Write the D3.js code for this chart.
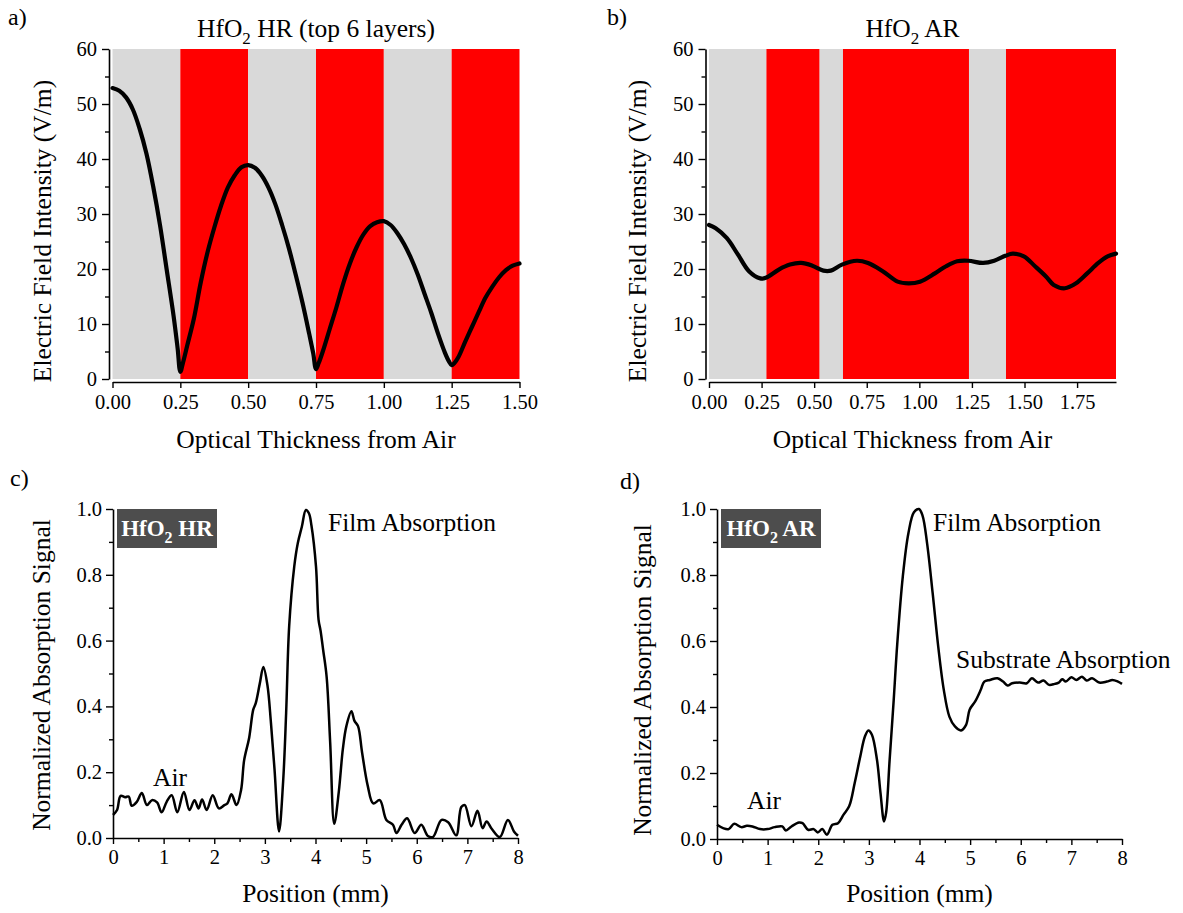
<!DOCTYPE html>
<html>
<head>
<meta charset="utf-8">
<script src="https://cdn.jsdelivr.net/npm/d3@7"></script>
<style>
  html, body { margin: 0; padding: 0; background: #fff; }
  svg text { font-family: "Liberation Serif", "Times New Roman", serif; fill: #000; }
</style>
</head>
<body>
<svg id="chart" width="1183" height="913"></svg>
<script>
// ---------------- DATA ----------------
// Panel a: HfO2 HR (top 6 layers)
const hrLayerStart = [0, 0.25, 0.5, 0.75, 1.0, 1.25];
const hrLayerEnd   = [0.25, 0.5, 0.75, 1.0, 1.25, 1.5];
const hrLayerType  = ["low", "high", "low", "high", "low", "high"];
const hrX = [0, 0.025, 0.05, 0.075, 0.1, 0.125, 0.15, 0.175, 0.2, 0.225, 0.24, 0.25, 0.26, 0.275, 0.3, 0.325, 0.35, 0.375, 0.4, 0.425, 0.45, 0.475, 0.5,
             0.525, 0.55, 0.575, 0.6, 0.625, 0.65, 0.675, 0.7, 0.725, 0.74, 0.75, 0.76, 0.775, 0.8, 0.825, 0.85, 0.875, 0.9, 0.925, 0.95, 0.975, 1.0,
             1.025, 1.05, 1.075, 1.1, 1.125, 1.15, 1.175, 1.2, 1.225, 1.24, 1.25, 1.26, 1.275, 1.3, 1.325, 1.35, 1.375, 1.4, 1.425, 1.45, 1.475, 1.5];
const hrE = [52.9, 52.4, 51.2, 49.0, 45.5, 41.0, 35.0, 28.0, 19.8, 11.5, 5.6, 1.3, 3.0, 6.0, 11.0, 17.5, 23.0, 27.5, 31.5, 34.8, 37.0, 38.5, 38.9,
             38.4, 37.0, 34.8, 31.8, 28.0, 23.8, 19.0, 13.9, 8.2, 4.6, 1.8, 2.9, 5.0, 9.0, 13.0, 17.3, 21.0, 24.0, 26.3, 27.8, 28.5, 28.7,
             28.0, 26.5, 24.5, 22.0, 19.0, 15.5, 12.0, 8.2, 4.8, 3.2, 2.5, 2.9, 4.0, 6.8, 9.5, 12.2, 14.8, 16.8, 18.5, 19.8, 20.6, 21.0];

// Panel b: HfO2 AR
const arLayerStart = [0, 0.273, 0.526, 0.637, 1.236, 1.412];
const arLayerEnd   = [0.273, 0.526, 0.637, 1.236, 1.412, 1.935];
const arLayerType  = ["low", "high", "low", "high", "low", "high"];
const arX = [0, 0.032, 0.085, 0.138, 0.19, 0.244, 0.27, 0.332, 0.385, 0.438, 0.491, 0.544, 0.579, 0.632, 0.703, 0.756, 0.826, 0.897, 0.95, 1.003,
             1.074, 1.127, 1.18, 1.233, 1.303, 1.356, 1.409, 1.444, 1.497, 1.55, 1.603, 1.639, 1.692, 1.745, 1.798, 1.851, 1.895, 1.935];
const arE = [28.0, 27.4, 25.6, 22.6, 19.6, 18.3, 18.4, 19.9, 20.8, 21.1, 20.6, 19.7, 19.7, 20.8, 21.5, 21.1, 19.6, 17.7, 17.4, 17.7,
             19.2, 20.5, 21.4, 21.5, 21.1, 21.5, 22.4, 22.8, 22.3, 20.5, 18.6, 17.1, 16.5, 17.4, 19.2, 21.1, 22.3, 22.8];

// Panel c: HfO2 HR absorption scan
const hrPos = [0, 0.08, 0.15, 0.24, 0.31, 0.37, 0.47, 0.57, 0.67, 0.77, 0.87, 0.96, 1.06, 1.16, 1.27, 1.40, 1.51, 1.61, 1.69, 1.76, 1.85, 1.97,
               2.09, 2.2, 2.26, 2.34, 2.44, 2.53, 2.59, 2.69, 2.77, 2.82, 2.9, 2.97, 3.05, 3.12, 3.19, 3.28, 3.36, 3.42, 3.48, 3.58, 3.65, 3.73,
               3.81, 3.87, 3.92, 4.01, 4.06, 4.1, 4.15, 4.22, 4.29, 4.37, 4.46, 4.54, 4.61, 4.71, 4.77, 4.84, 4.92, 5.03, 5.14, 5.27, 5.4, 5.53,
               5.6, 5.7, 5.81, 5.96, 6.09, 6.22, 6.32, 6.49, 6.62, 6.78, 6.88, 6.95, 7.08, 7.2, 7.3, 7.38, 7.48, 7.64, 7.8, 7.92, 8.0];
const hrAbs = [0.07, 0.085, 0.128, 0.124, 0.126, 0.098, 0.11, 0.137, 0.1, 0.115, 0.108, 0.078, 0.11, 0.13, 0.078, 0.14, 0.085, 0.115, 0.09, 0.117, 0.085, 0.13,
               0.09, 0.1, 0.105, 0.133, 0.1, 0.146, 0.236, 0.305, 0.39, 0.41, 0.47, 0.52, 0.465, 0.35, 0.21, 0.02, 0.17, 0.38, 0.644, 0.825, 0.896, 0.946,
               0.997, 0.987, 0.95, 0.825, 0.664, 0.63, 0.573, 0.49, 0.29, 0.043, 0.14, 0.27, 0.34, 0.385, 0.356, 0.34, 0.26, 0.16, 0.105, 0.115, 0.055, 0.04,
               0.015, 0.04, 0.06, 0.015, 0.04, 0.006, 0.003, 0.055, 0.048, 0.008, 0.094, 0.1, 0.036, 0.083, 0.03, 0.05, 0.028, 0.003, 0.055, 0.02, 0.007];

// Panel d: HfO2 AR absorption scan
const arPos = [0, 0.12, 0.23, 0.34, 0.48, 0.59, 0.70, 0.85, 1.0, 1.14, 1.29, 1.36, 1.47, 1.62, 1.69, 1.80, 1.91, 1.99, 2.08, 2.17, 2.28, 2.39, 2.50,
               2.61, 2.72, 2.83, 2.92, 2.99, 3.06, 3.16, 3.23, 3.30, 3.34, 3.41, 3.49, 3.56, 3.67, 3.78, 3.89, 3.99, 4.06, 4.15, 4.26, 4.37, 4.48,
               4.59, 4.70, 4.82, 4.92, 4.99, 5.10, 5.21, 5.28, 5.39, 5.54, 5.65, 5.74, 5.83, 5.98, 6.12, 6.22, 6.34, 6.45, 6.56, 6.67, 6.75, 6.82,
               6.89, 7.0, 7.10, 7.21, 7.30, 7.41, 7.55, 7.70, 7.81, 7.92, 8.0];
const arAbs = [0.043, 0.033, 0.03, 0.046, 0.036, 0.04, 0.038, 0.03, 0.03, 0.036, 0.038, 0.026, 0.038, 0.05, 0.048, 0.028, 0.03, 0.02, 0.03, 0.013, 0.043, 0.048, 0.074,
               0.099, 0.17, 0.25, 0.31, 0.329, 0.316, 0.24, 0.139, 0.053, 0.079, 0.24, 0.42, 0.59, 0.795, 0.926, 0.99, 1.0, 0.98, 0.896, 0.745, 0.583, 0.452,
               0.371, 0.341, 0.329, 0.346, 0.392, 0.417, 0.452, 0.477, 0.482, 0.487, 0.477, 0.465, 0.472, 0.474, 0.472, 0.487, 0.474, 0.48, 0.467, 0.47, 0.474, 0.484,
               0.477, 0.49, 0.482, 0.492, 0.48, 0.487, 0.474, 0.477, 0.482, 0.477, 0.47];

// Tick values
const fieldYTicks = [0, 10, 20, 30, 40, 50, 60];
const fieldYMinor = [5, 15, 25, 35, 45, 55];
const hrXTicks = [0, 0.25, 0.5, 0.75, 1.0, 1.25, 1.5];
const arXTicks = [0, 0.25, 0.5, 0.75, 1.0, 1.25, 1.5, 1.75];
const absYTicks = [0, 0.2, 0.4, 0.6, 0.8, 1.0];
const absYMinor = [0.1, 0.3, 0.5, 0.7, 0.9];
const posXTicks = [0, 1, 2, 3, 4, 5, 6, 7, 8];
const posXMinor = [0.5, 1.5, 2.5, 3.5, 4.5, 5.5, 6.5, 7.5];

const layerColor = { low: "#d9d9d9", high: "#ff0000" };

// ---------------- DRAWING ----------------
const svg = d3.select("#chart");

function styleAxis(g) {
  g.selectAll("path.domain").attr("stroke", "#000").attr("stroke-width", 1.6);
  g.selectAll(".tick line").attr("stroke", "#000").attr("stroke-width", 1.4);
  g.selectAll(".tick text").style("font-family", '"Liberation Serif", serif').style("font-size", "20.5px").attr("fill", "#000");
}

function drawAxes(cfg) {
  const { x, y, yAxisX, xAxisY, xTicks, xMinor, yTicks, yMinor, xFmt, yFmt, yPad, xPad } = cfg;
  if (yMinor) {
    svg.append("g").attr("transform", `translate(${yAxisX},0)`)
      .call(d3.axisLeft(y).tickValues(yMinor).tickSize(4).tickFormat(""))
      .call(g => { g.select("path.domain").remove(); styleAxis(g); });
  }
  if (xMinor) {
    svg.append("g").attr("transform", `translate(0,${xAxisY})`)
      .call(d3.axisBottom(x).tickValues(xMinor).tickSize(4).tickFormat(""))
      .call(g => { g.select("path.domain").remove(); styleAxis(g); });
  }
  const gy = svg.append("g").attr("transform", `translate(${yAxisX},0)`)
    .call(d3.axisLeft(y).tickValues(yTicks).tickSize(7).tickSizeOuter(0).tickPadding(yPad).tickFormat(yFmt));
  styleAxis(gy);
  const gx = svg.append("g").attr("transform", `translate(0,${xAxisY})`)
    .call(d3.axisBottom(x).tickValues(xTicks).tickSize(6).tickSizeOuter(0).tickPadding(xPad).tickFormat(xFmt));
  styleAxis(gx);
}

function subText(sel, parts, subSize) {
  let prevSub = false;
  parts.forEach(([t, sub]) => {
    const ts = sel.append("tspan").text(t);
    if (sub) { ts.attr("dy", 7).style("font-size", subSize + "px"); }
    else if (prevSub) { ts.attr("dy", -7); }
    prevSub = sub;
  });
}

function fieldPanel(opt) {
  const x = d3.scaleLinear().domain(opt.xDomain).range([opt.left, opt.right]);
  const y = d3.scaleLinear().domain([0, 60]).range([opt.bottom, opt.top]);
  svg.append("g").selectAll("rect").data(opt.starts.map((s, i) => i)).join("rect")
    .attr("x", i => x(opt.starts[i]))
    .attr("width", i => x(opt.ends[i]) - x(opt.starts[i]))
    .attr("y", y(60)).attr("height", y(0) - y(60))
    .attr("fill", i => layerColor[opt.types[i]]);
  drawAxes({ x, y, yAxisX: opt.left - 3.5, xAxisY: opt.bottom + 3,
    xTicks: opt.xTicks, yTicks: fieldYTicks, yMinor: fieldYMinor,
    xFmt: d3.format(".2f"), yFmt: d3.format("d"), yPad: 5, xPad: 6 });
  const line = d3.line().x((d, i) => x(opt.xs[i])).y(d => y(d)).curve(d3.curveCatmullRom.alpha(0.5));
  svg.append("path").datum(opt.ys).attr("d", line)
    .attr("fill", "none").attr("stroke", "#000").attr("stroke-width", 4.2).attr("stroke-linejoin", "round").attr("stroke-linecap", "round");
  const t = svg.append("text").attr("x", (opt.left + opt.right) / 2).attr("y", 37)
    .attr("text-anchor", "middle").style("font-size", "25.5px");
  subText(t, opt.title, 17);
  svg.append("text").attr("x", (opt.left + opt.right) / 2).attr("y", 448)
    .attr("text-anchor", "middle").style("font-size", "25.5px").text("Optical Thickness from Air");
  svg.append("text").attr("transform", `translate(${opt.yTitleX},231) rotate(-90)`)
    .attr("text-anchor", "middle").style("font-size", "25.5px").text("Electric Field Intensity (V/m)");
  svg.append("text").attr("x", opt.labelX).attr("y", 25).style("font-size", "24px").text(opt.label);
}

function absPanel(opt) {
  const x = d3.scaleLinear().domain([0, 8]).range([opt.left, opt.right]);
  const y = d3.scaleLinear().domain([0, 1]).range([opt.bottom, opt.top]);
  drawAxes({ x, y, yAxisX: opt.left, xAxisY: opt.bottom,
    xTicks: posXTicks, xMinor: posXMinor, yTicks: absYTicks, yMinor: absYMinor,
    xFmt: d3.format("d"), yFmt: d3.format(".1f"), yPad: 4, xPad: 5 });
  const line = d3.line().x((d, i) => x(opt.xs[i])).y(d => y(d)).curve(d3.curveCatmullRom.alpha(0.5));
  svg.append("path").datum(opt.ys).attr("d", line)
    .attr("fill", "none").attr("stroke", "#000").attr("stroke-width", 2.5).attr("stroke-linejoin", "round");
  svg.append("rect").attr("x", opt.left + 4).attr("y", opt.top).attr("width", 100).attr("height", 39).attr("fill", "#4d4d4d");
  const bt = svg.append("text").attr("x", opt.left + 54).attr("y", opt.top + 27).attr("text-anchor", "middle")
    .style("font-size", "23px").style("font-weight", "bold").style("fill", "#fff");
  subText(bt, opt.boxText, 16);
  bt.selectAll("tspan").style("fill", "#fff");
  opt.notes.forEach(n => {
    svg.append("text").attr("x", n[1]).attr("y", n[2]).style("font-size", "25.5px").text(n[0]);
  });
  svg.append("text").attr("x", (opt.left + opt.right) / 2).attr("y", 902)
    .attr("text-anchor", "middle").style("font-size", "25.5px").text("Position (mm)");
  svg.append("text").attr("transform", `translate(${opt.yTitleX},${opt.yTitleY}) rotate(-90)`)
    .attr("text-anchor", "middle").style("font-size", "25.5px").text("Normalized Absorption Signal");
  svg.append("text").attr("x", opt.labelX).attr("y", opt.labelY).style("font-size", "24px").text(opt.label);
}

fieldPanel({ left: 112.5, right: 519.5, top: 49, bottom: 379, xDomain: [0, 1.5],
  starts: hrLayerStart, ends: hrLayerEnd, types: hrLayerType, xs: hrX, ys: hrE, xTicks: hrXTicks,
  title: [["HfO", false], ["2", true], [" HR (top 6 layers)", false]], yTitleX: 51, labelX: 8, label: "a)" });

fieldPanel({ left: 709, right: 1116, top: 49, bottom: 379, xDomain: [0, 1.935],
  starts: arLayerStart, ends: arLayerEnd, types: arLayerType, xs: arX, ys: arE, xTicks: arXTicks,
  title: [["HfO", false], ["2", true], [" AR", false]], yTitleX: 646, labelX: 607, label: "b)" });

absPanel({ left: 113, right: 518, top: 509, bottom: 838, xs: hrPos, ys: hrAbs,
  boxText: [["HfO", false], ["2", true], [" HR", false]],
  notes: [["Film Absorption", 328, 531], ["Air", 153, 786]],
  yTitleX: 50, yTitleY: 675, labelX: 10, labelY: 486, label: "c)" });

absPanel({ left: 717, right: 1122, top: 509, bottom: 839, xs: arPos, ys: arAbs,
  boxText: [["HfO", false], ["2", true], [" AR", false]],
  notes: [["Film Absorption", 933, 531], ["Substrate Absorption", 956, 668], ["Air", 747, 809]],
  yTitleX: 651, yTitleY: 680, labelX: 620, labelY: 489, label: "d)" });
</script>
</body>
</html>
